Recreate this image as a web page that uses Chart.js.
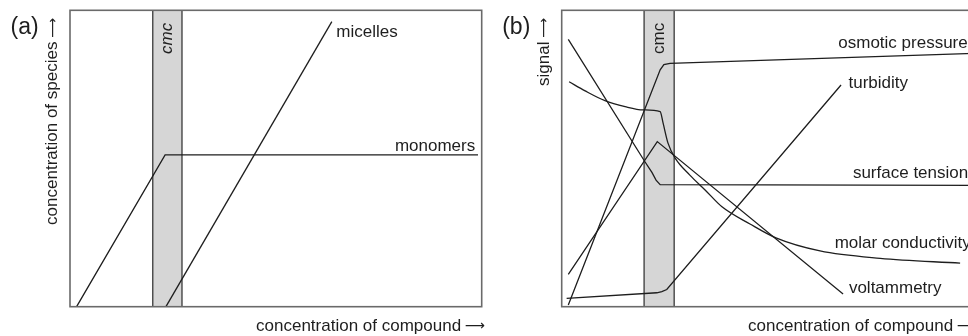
<!DOCTYPE html>
<html>
<head>
<meta charset="utf-8">
<script src="https://cdn.jsdelivr.net/npm/chart.js@4.4.1/dist/chart.umd.min.js"></script>
<style>
  html, body { margin: 0; padding: 0; background: #fff; overflow: hidden; }
  #wrap { position: relative; width: 968px; height: 336px; overflow: hidden; }
  #chartA { position: absolute; left: 0; top: 0; }
  #chartB { position: absolute; left: 490px; top: 0; }
</style>
</head>
<body>
<div id="wrap">
  <canvas id="chartA" width="490" height="336"></canvas>
  <canvas id="chartB" width="490" height="336"></canvas>
</div>
<script>
// Panel (a): concentration of species
const cmcA = [20.1, 27.2];
const monomersX = [1.6, 23.1, 99.1];
const monomersY = [0, 51.2, 51.2];
const micellesX = [23.3, 63.6];
const micellesY = [0, 96.2];

// Panel (b): measured signal
const cmcB = [20.0, 27.3];
const osmoticX = [1.6, 23.9, 24.8, 26.3, 100];
const osmoticY = [0.6, 79.9, 81.7, 82.1, 85.5];
const turbidityX = [1.2, 23.1, 24.3, 25.5, 67.8];
const turbidityY = [2.8, 4.7, 5.1, 5.8, 74.8];
const surfaceX = [1.6, 20.2, 21.9, 22.9, 23.9, 100];
const surfaceY = [90.2, 48.9, 45.3, 42.7, 41.2, 40.9];
const molarX = [1.8, 5.7, 10.5, 15.4, 19.8, 23.9, 24.6, 25.8, 27.5, 31.1, 34.8, 38.9, 45.7, 52.0, 62.7, 77.3, 96.7];
const molarY = [75.9, 72.8, 69.5, 67.5, 66.4, 65.8, 62.0, 55.2, 50.2, 44.4, 39.4, 33.7, 27.9, 23.2, 18.8, 16.3, 14.7];
const voltX = [1.6, 23.2, 68.3];
const voltY = [10.9, 55.7, 4.3];

const fontFamily = '"Liberation Sans", Arial, Helvetica, sans-serif';
const arrowFont = '14px "DejaVu Sans", sans-serif';
const arrowGlyph = '\u27F6';
const ink = '#1e1e1e';

function points(xs, ys) {
    return xs.map((x, i) => ({ x: x, y: ys[i] }));
}

function curve(name, xs, ys, extra) {
    return Object.assign({
        label: name,
        data: points(xs, ys),
        showLine: true,
        borderColor: ink,
        borderWidth: 1.3,
        pointRadius: 0,
        tension: 0,
        fill: false,
        order: 0
    }, extra || {});
}

function band(cmc) {
    return {
        label: 'cmc',
        data: [
            { x: cmc[0], y: 0 }, { x: cmc[0], y: 100 },
            { x: cmc[1], y: 100 }, { x: cmc[1], y: 0 }
        ],
        showLine: true,
        borderColor: '#454545',
        borderWidth: 1.4,
        backgroundColor: '#d6d6d6',
        fill: 'origin',
        pointRadius: 0,
        tension: 0,
        order: 10
    };
}

// right-aligned title ending with an arrow, drawn in the current transform
function titleWithArrow(ctx, text, x, y) {
    ctx.font = arrowFont;
    ctx.textAlign = 'right';
    const aw = ctx.measureText(arrowGlyph).width;
    ctx.fillText(arrowGlyph, x, y - 0.5);
    ctx.font = '17px ' + fontFamily;
    ctx.fillText(text, x - aw - 3.5, y);
}

// Frame, titles and series labels
const panelText = {
    id: 'panelText',
    afterDatasetsDraw(chart, args, opts) {
        const ctx = chart.ctx;
        const area = chart.chartArea;
        const xs = chart.scales.x;
        const ys = chart.scales.y;
        ctx.save();

        ctx.strokeStyle = '#6a6a6a';
        ctx.lineWidth = 1.6;
        ctx.strokeRect(area.left, area.top, area.right - area.left, area.bottom - area.top);

        ctx.fillStyle = ink;
        ctx.textBaseline = 'alphabetic';

        ctx.font = '23px ' + fontFamily;
        ctx.textAlign = 'left';
        ctx.fillText(opts.panel, area.left - 59.5, 33.5);

        titleWithArrow(ctx, opts.xTitle, area.right + 3, area.bottom + 24);

        ctx.save();
        ctx.translate(area.left - 13, 18);
        ctx.rotate(-Math.PI / 2);
        titleWithArrow(ctx, opts.yTitle, 0, 0);
        ctx.restore();

        // cmc label inside the band
        const bandMid = (xs.getPixelForValue(opts.cmc[0]) + xs.getPixelForValue(opts.cmc[1])) / 2;
        ctx.save();
        ctx.translate(bandMid + 4.5, area.top + 12.5);
        ctx.rotate(-Math.PI / 2);
        ctx.font = (opts.cmcItalic ? 'italic ' : '') + '17px ' + fontFamily;
        ctx.textAlign = 'right';
        ctx.fillText('cmc', 0, 0);
        ctx.restore();

        ctx.font = '17px ' + fontFamily;
        opts.labels.forEach(lab => {
            const ds = chart.data.datasets[lab.ds];
            const last = ds.data[ds.data.length - 1];
            const py = ys.getPixelForValue(last.y) + lab.dy;
            let px;
            if (lab.at === 'right') {
                px = area.right + lab.dx;
                ctx.textAlign = 'right';
            } else {
                px = xs.getPixelForValue(last.x) + lab.dx;
                ctx.textAlign = 'left';
            }
            ctx.fillText(lab.text, px, py);
        });

        ctx.restore();
    }
};

function makeOptions(padding, textOpts) {
    return {
        responsive: false,
        animation: false,
        devicePixelRatio: 1,
        layout: { padding: padding },
        plugins: {
            legend: { display: false },
            tooltip: { enabled: false },
            panelText: textOpts
        },
        scales: {
            x: { type: 'linear', min: 0, max: 100, display: false },
            y: { type: 'linear', min: 0, max: 100, display: false }
        }
    };
}

new Chart(document.getElementById('chartA'), {
    type: 'scatter',
    data: {
        datasets: [
            curve('monomers', monomersX, monomersY),
            curve('micelles', micellesX, micellesY),
            band(cmcA)
        ]
    },
    options: makeOptions(
        { left: 70, top: 10.3, right: 8.3, bottom: 29.3 },
        {
            panel: '(a)',
            xTitle: 'concentration of compound',
            yTitle: 'concentration of species',
            cmc: cmcA,
            cmcItalic: true,
            labels: [
                { text: 'monomers', ds: 0, at: 'right', dx: -6.5, dy: -4 },
                { text: 'micelles', ds: 1, at: 'end', dx: 4.5, dy: 15 }
            ]
        }
    ),
    plugins: [panelText]
});

new Chart(document.getElementById('chartB'), {
    type: 'scatter',
    data: {
        datasets: [
            curve('osmotic pressure', osmoticX, osmoticY),
            curve('turbidity', turbidityX, turbidityY),
            curve('surface tension', surfaceX, surfaceY),
            curve('molar conductivity', molarX, molarY, { cubicInterpolationMode: 'monotone' }),
            curve('voltammetry', voltX, voltY),
            band(cmcB)
        ]
    },
    options: makeOptions(
        { left: 71.7, top: 10.3, right: 6.3, bottom: 29.3 },
        {
            panel: '(b)',
            xTitle: 'concentration of compound',
            yTitle: 'signal',
            cmc: cmcB,
            cmcItalic: false,
            labels: [
                { text: 'osmotic pressure', ds: 0, at: 'right', dx: -6, dy: -5 },
                { text: 'turbidity', ds: 1, at: 'end', dx: 7.5, dy: 3.3 },
                { text: 'surface tension', ds: 2, at: 'right', dx: -5.5, dy: -7.2 },
                { text: 'molar conductivity', ds: 3, at: 'right', dx: -3, dy: -15 },
                { text: 'voltammetry', ds: 4, at: 'end', dx: 5.8, dy: -1.3 }
            ]
        }
    ),
    plugins: [panelText]
});
</script>
</body>
</html>
